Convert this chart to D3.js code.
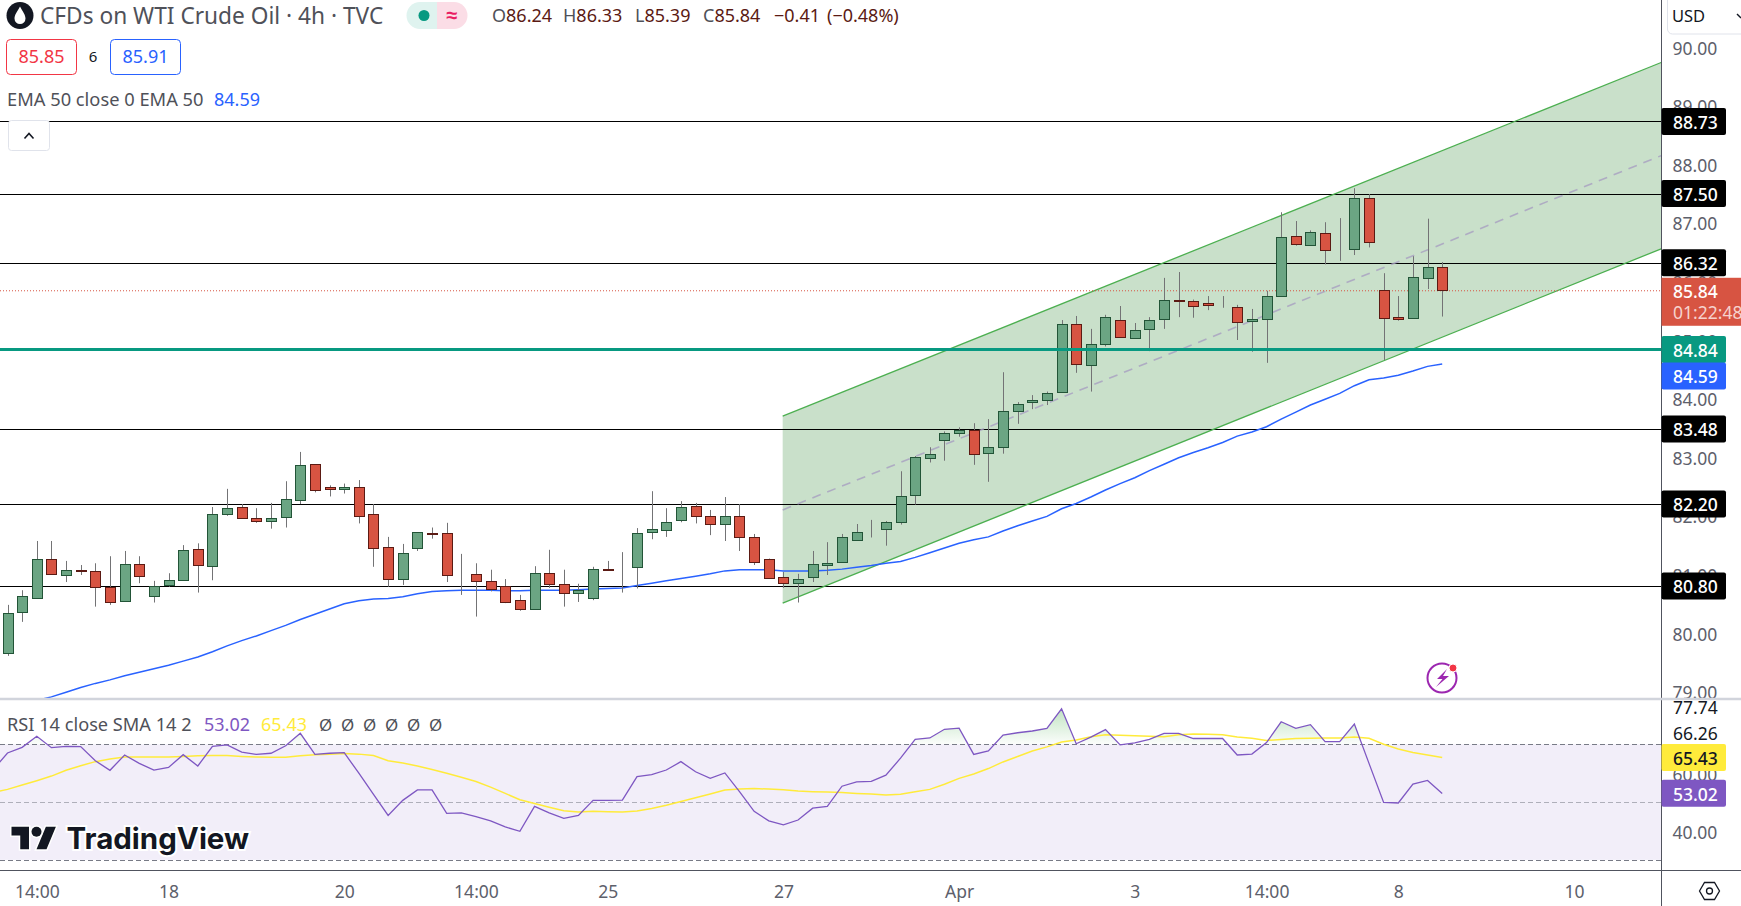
<!DOCTYPE html>
<html>
<head>
<meta charset="utf-8">
<script src="https://cdn.jsdelivr.net/npm/d3@7"></script>
<style>
	html, body { margin: 0; padding: 0; background: #fff; overflow: hidden; }
	svg { display: block; }
	text { font-family: "Noto Sans", sans-serif; }
</style>
</head>
<body>
<div id="chart"></div>
<script>
// one entry per 4h bar
var opens = [79.65,80.35,80.61,81.26,80.98,81.07,81.05,80.78,80.54,81.17,80.64,80.81,80.90,81.43,81.14,82.03,82.15,81.97,81.92,81.97,
	82.26,82.88,82.50,82.47,82.50,82.03,81.46,80.92,81.45,81.70,81.70,81.02,81.00,80.88,80.81,80.56,80.40,81.02,80.83,80.68,
	80.61,81.10,81.10,81.12,81.72,81.77,81.92,82.16,81.99,81.85,81.99,81.63,81.27,80.95,80.87,80.95,81.17,81.20,81.60,81.77,
	81.77,81.89,82.35,82.98,83.29,83.41,83.46,83.07,83.17,83.78,83.94,83.97,84.11,85.27,84.59,84.93,85.34,85.03,85.18,85.35,
	85.68,85.66,85.63,85.57,85.57,85.32,85.35,85.75,86.77,86.62,86.82,86.53,86.55,87.42,85.86,85.40,85.37,86.05,86.24];
var highs = [80.48,80.73,81.57,81.57,81.23,81.16,81.19,81.31,81.40,81.31,80.89,81.02,81.50,81.53,82.15,82.46,82.20,82.13,82.22,82.59,
	83.09,82.88,82.52,82.55,82.61,82.20,81.64,81.52,81.72,81.80,81.88,81.35,81.19,81.08,80.92,80.65,81.14,81.42,81.08,80.84,
	81.13,81.23,81.38,81.79,82.42,82.13,82.25,82.22,82.10,82.32,82.20,81.69,81.27,81.04,81.01,81.40,81.55,81.69,81.86,81.93,
	81.91,82.76,83.02,83.17,83.44,83.51,83.58,83.65,84.45,83.94,84.06,84.12,85.34,85.41,85.19,85.43,85.58,85.29,85.39,86.06,
	86.16,85.69,85.75,85.75,85.60,85.53,85.84,87.18,87.03,86.87,87.01,87.08,87.59,87.49,86.14,85.75,86.43,87.07,86.33];
var lows = [79.61,80.19,80.61,81.00,80.87,80.99,80.45,80.48,80.54,80.85,80.52,80.79,80.90,80.69,80.90,82.00,81.97,81.88,81.78,81.80,
	82.20,82.40,82.33,82.38,81.87,81.13,80.79,80.82,81.40,81.61,80.87,80.65,80.28,80.71,80.51,80.38,80.40,80.77,80.45,80.53,
	80.56,81.08,80.69,80.76,81.60,81.64,81.89,81.87,81.67,81.57,81.40,81.16,80.95,80.77,80.52,80.87,80.99,81.20,81.58,81.63,
	81.49,81.85,82.19,82.91,82.94,83.35,82.87,82.58,83.06,83.57,83.82,83.89,84.11,84.44,84.12,84.89,85.05,85.03,84.81,85.19,
	85.39,85.38,85.51,85.55,85.00,84.80,84.61,85.75,86.61,86.62,86.29,86.35,86.45,86.58,84.66,85.33,85.37,85.87,85.40];
var closes = [80.34,80.63,81.27,81.00,81.07,81.06,80.78,80.52,81.17,80.97,80.81,80.90,81.41,81.16,82.03,82.13,81.97,81.92,81.97,82.28,
	82.86,82.43,82.47,82.50,82.01,81.45,80.92,81.36,81.72,81.69,80.98,81.02,80.88,80.75,80.54,80.40,81.02,80.83,80.68,80.73,
	81.10,81.09,81.10,81.70,81.77,81.90,82.15,81.99,81.85,81.99,81.63,81.20,80.95,80.85,80.93,81.17,81.20,81.63,81.73,81.77,
	81.89,82.33,83.00,83.05,83.41,83.46,83.05,83.17,83.78,83.90,83.97,84.09,85.27,84.59,84.94,85.39,85.05,85.17,85.34,85.68,
	85.67,85.57,85.59,85.57,85.32,85.35,85.75,86.75,86.63,86.84,86.53,86.53,87.42,86.67,85.39,85.37,86.07,86.24,85.84];

// EMA 50, first three bars are below the pane
var emaValues = [78.72,78.78,78.85,78.91,78.99,79.07,79.14,79.20,79.27,79.33,79.39,79.45,79.52,79.59,79.68,79.78,79.87,79.95,80.04,80.13,
	80.23,80.32,80.41,80.50,80.55,80.58,80.59,80.62,80.67,80.71,80.72,80.73,80.73,80.73,80.72,80.72,80.73,80.73,80.73,80.74,
	80.75,80.76,80.77,80.81,80.85,80.89,80.93,80.97,81.01,81.06,81.08,81.08,81.08,81.06,81.06,81.06,81.07,81.09,81.12,81.15,
	81.19,81.22,81.29,81.37,81.45,81.53,81.59,81.64,81.74,81.83,81.91,81.99,82.12,82.21,82.32,82.44,82.55,82.65,82.77,82.88,
	82.99,83.08,83.16,83.25,83.36,83.43,83.52,83.65,83.77,83.89,83.99,84.09,84.22,84.32,84.35,84.40,84.47,84.55,84.59];

// both rsi lists start one bar earlier, that bar is cut off by the left edge
var rsiValues = [61.0,67.0,68.95,72.76,68.84,69.3,69.2,64.3,61.0,66.3,63.4,61.1,62.0,66.4,62.5,69.3,69.8,67.3,66.5,66.9,69.5,
	73.8,66.5,66.9,67.1,60.0,52.7,45.4,50.6,54.2,54.2,46.1,46.3,45.0,43.5,41.4,39.9,48.5,46.3,44.4,45.4,
	50.6,50.6,50.7,58.8,59.5,61.1,64.0,60.5,58.2,60.1,53.6,46.8,43.5,42.1,43.8,47.9,48.5,55.5,57.0,57.2,
	59.3,65.2,71.7,72.2,75.2,75.6,66.5,67.7,73.2,74.0,74.6,75.5,82.3,70.2,72.5,75.1,69.8,70.5,71.7,73.8,
	73.8,72.0,72.0,72.0,66.3,66.6,70.6,77.8,75.5,76.8,70.9,70.9,77.0,63.4,49.9,49.7,56.2,57.5,53.0];
var rsiSmaValues = [53.3,54.4,55.9,57.4,59.0,61.0,62.6,64.0,64.9,65.6,65.6,65.6,65.6,65.8,66.0,66.1,66.1,65.8,65.6,65.5,65.5,
	66.0,66.4,66.6,66.8,66.6,66.1,64.3,63.5,62.5,61.3,60.0,58.6,57.1,55.2,53.0,50.8,49.5,48.2,47.0,46.6,
	46.8,46.7,46.6,46.9,47.8,48.9,50.2,51.5,52.8,54.2,54.5,54.7,54.5,54.3,53.8,53.6,53.5,53.3,53.0,52.8,
	52.5,52.7,53.6,54.4,56.2,58.2,59.7,61.6,63.9,65.8,67.7,69.1,70.8,71.5,72.6,73.3,73.1,73.0,72.8,72.6,
	73.3,73.6,73.5,73.3,72.5,72.1,71.3,71.7,72.0,72.1,72.2,72.2,72.5,72.1,70.0,68.4,67.2,66.3,65.43];

var priceTicks = [90,89,88,87,86,85,84,83,82,81,80,79];
var rsiTicks = [60,40];
var rsiBandLevels = [70,50,30];
var timeIndexes = [2,11,23,32,41,53,65,77,86,95,107];
var timeLabels = ["14:00","18","20","14:00","25","27","Apr","3","14:00","8","10"];

var levelValues = [88.73,87.50,86.32,83.48,82.20,80.80];
var supportValue = 84.84;
var lastPrice = 85.84;
var countdown = "01:22:48";
var emaLast = 84.59;
var rsiLast = 53.02;
var rsiSmaLast = 65.43;
var rsiExtraLabels = ["77.74","66.26"];

// regression channel, first bar and right edge of the pane
var channelIndexes = [52.95,113];
var channelUpper = [83.70,89.74];
var channelMiddle = [82.10,88.15];
var channelLower = [80.51,86.56];

var legendKeys = ["O","H","L","C"];
var legendValues = ["86.24","86.33","85.39","85.84"];
var legendChange = ["\u22120.41","(\u22120.48%)"];
var sellPrice = "85.85";
var spreadText = "6";
var buyPrice = "85.91";


var W = 1741, H = 906;
var plotRight = 1661.5;
var mainBottom = 698;
var rsiTop = 700;
var rsiBottom = 870;

var COLORS = {
	up: "#6ba583", upBorder: "#225437",
	down: "#d75442", downBorder: "#5b1a13",
	wick: "#737375",
	axisLine: "#50535e", axisText: "#5d606b", sep: "#d1d4dc",
	teal: "#089981", blue: "#2962ff", purple: "#7e57c2", yellow: "#ffeb3b",
	channel: "#4caf50", channelFill: "#388e3c", text: "#4f5159"
};

var svg = d3.select("#chart").append("svg").attr("width", W).attr("height", H);
var defs = svg.append("defs");

defs.append("clipPath").attr("id", "clipMain")
	.append("rect").attr("x", 0).attr("y", 0).attr("width", plotRight).attr("height", mainBottom);
defs.append("clipPath").attr("id", "clipAxis")
	.append("rect").attr("x", plotRight).attr("y", 0).attr("width", W - plotRight).attr("height", mainBottom);

/***************************************************************************
 *
 * SCALES
 *
 **************************************************************************/
var x = d3.scaleLinear().domain([0, 98]).range([7.5, 1442.2]);
var y = d3.scaleLinear().domain([90, 79]).range([47, 691.6]);
var rsiY = d3.scaleLinear().domain([70, 30]).range([744.3, 859.9]);

/***************************************************************************
 *
 * MAIN PANE
 *
 **************************************************************************/
var main = svg.append("g").attr("clip-path", "url(#clipMain)");

var channelPoints = function(values)
{
	return values.map(function(v, i) { return [x(channelIndexes[i]), y(v)]; });
};

main.append("path")
	.attr("d", "M" + channelPoints(channelUpper).join("L") + "L" + channelPoints(channelLower).reverse().join("L") + "Z")
	.attr("fill", COLORS.channelFill)
	.attr("fill-opacity", 0.27);

main.selectAll(".level")
	.data(levelValues)
	.enter()
	.append("line")
		.attr("class", "level")
		.attr("x1", 0)
		.attr("x2", plotRight)
		.attr("y1", function(d) { return Math.round(y(d)) + 0.5; })
		.attr("y2", function(d) { return Math.round(y(d)) + 0.5; })
		.attr("stroke", "#000")
		.attr("stroke-width", 1.2);

[channelUpper, channelLower].forEach(function(values)
{
	main.append("path")
		.attr("d", "M" + channelPoints(values).join("L"))
		.attr("stroke", COLORS.channel)
		.attr("stroke-width", 1.3)
		.attr("fill", "none");
});

main.append("path")
	.attr("d", "M" + channelPoints(channelMiddle).join("L"))
	.attr("stroke", "#a79fc0")
	.attr("stroke-opacity", 0.8)
	.attr("stroke-width", 1.6)
	.attr("stroke-dasharray", "9,7")
	.attr("fill", "none");

main.append("line")
	.attr("x1", 0)
	.attr("x2", plotRight)
	.attr("y1", y(lastPrice))
	.attr("y2", y(lastPrice))
	.attr("stroke", COLORS.down)
	.attr("stroke-width", 1)
	.attr("stroke-dasharray", "1,2");

var emaLine = d3.line()
	.x(function(d, i) { return x(i); })
	.y(function(d) { return y(d); });

main.append("path")
	.datum(emaValues)
	.attr("d", emaLine)
	.attr("stroke", COLORS.blue)
	.attr("stroke-width", 1.5)
	.attr("fill", "none");

var barIsUp = function(i) { return closes[i] >= opens[i]; };

main.selectAll(".wick")
	.data(d3.range(opens.length))
	.enter()
	.append("line")
		.attr("class", "wick")
		.attr("x1", function(i) { return Math.round(x(i)) + 0.5; })
		.attr("x2", function(i) { return Math.round(x(i)) + 0.5; })
		.attr("y1", function(i) { return y(highs[i]); })
		.attr("y2", function(i) { return y(lows[i]); })
		.attr("stroke", COLORS.wick)
		.attr("stroke-width", 1);

main.selectAll(".body")
	.data(d3.range(opens.length))
	.enter()
	.append("rect")
		.attr("class", "body")
		.attr("x", function(i) { return Math.round(x(i)) - 4.5; })
		.attr("width", 10)
		.attr("y", function(i) { return Math.round(y(Math.max(opens[i], closes[i]))) + 0.5; })
		.attr("height", function(i) { return Math.max(0, Math.round(Math.abs(y(opens[i]) - y(closes[i])))); })
		.attr("fill", function(i) { return barIsUp(i) ? COLORS.up : COLORS.down; })
		.attr("stroke", function(i) { return barIsUp(i) ? COLORS.upBorder : COLORS.downBorder; })
		.attr("stroke-width", 1);

// support line is the only drawing above the candles
main.append("line")
	.attr("x1", 0)
	.attr("x2", plotRight)
	.attr("y1", y(supportValue))
	.attr("y2", y(supportValue))
	.attr("stroke", COLORS.teal)
	.attr("stroke-width", 3);

/***************************************************************************
 *
 * RSI PANE
 *
 **************************************************************************/
var rsi = svg.append("g");

rsi.append("rect")
	.attr("x", 0)
	.attr("width", plotRight)
	.attr("y", rsiY(70))
	.attr("height", rsiY(30) - rsiY(70))
	.attr("fill", COLORS.purple)
	.attr("fill-opacity", 0.1);

var grad = defs.append("linearGradient").attr("id", "rsiOver")
	.attr("gradientUnits", "userSpaceOnUse")
	.attr("x1", 0).attr("x2", 0)
	.attr("y1", rsiY(d3.max(rsiValues))).attr("y2", rsiY(70));
grad.append("stop").attr("offset", 0).attr("stop-color", COLORS.channel).attr("stop-opacity", 0.35);
grad.append("stop").attr("offset", 1).attr("stop-color", COLORS.channel).attr("stop-opacity", 0.02);

defs.append("clipPath").attr("id", "clipOver")
	.append("rect").attr("x", 0).attr("y", rsiTop).attr("width", plotRight).attr("height", rsiY(70) - rsiTop);

rsi.append("path")
	.datum(rsiValues)
	.attr("clip-path", "url(#clipOver)")
	.attr("fill", "url(#rsiOver)")
	.attr("d", d3.area()
		.x(function(d, i) { return x(i - 1); })
		.y0(rsiY(70))
		.y1(function(d) { return rsiY(d); }));

rsi.selectAll(".band")
	.data(rsiBandLevels)
	.enter()
	.append("line")
		.attr("class", "band")
		.attr("x1", 0)
		.attr("x2", plotRight)
		.attr("y1", function(d) { return Math.round(rsiY(d)) + 0.5; })
		.attr("y2", function(d) { return Math.round(rsiY(d)) + 0.5; })
		.attr("stroke", "#787b86")
		.attr("stroke-opacity", function(d) { return d === 50 ? 0.55 : 1; })
		.attr("stroke-dasharray", "5,3");

var rsiLine = d3.line()
	.x(function(d, i) { return x(i - 1); })
	.y(function(d) { return rsiY(d); });

rsi.append("path")
	.datum(rsiSmaValues)
	.attr("d", rsiLine)
	.attr("stroke", COLORS.yellow)
	.attr("stroke-width", 1.5)
	.attr("fill", "none");

rsi.append("path")
	.datum(rsiValues)
	.attr("d", rsiLine)
	.attr("stroke", COLORS.purple)
	.attr("stroke-width", 1.3)
	.attr("fill", "none");

/***************************************************************************
 *
 * AXES
 *
 **************************************************************************/
var styleAxis = function(g, color, dy)
{
	g.select(".domain").remove();
	g.selectAll("text")
		.attr("fill", color)
		.attr("dy", dy)
		.style("font-size", "17.5px")
		.style("font-family", "\"Noto Sans\", sans-serif");
};

svg.append("g")
	.attr("clip-path", "url(#clipAxis)")
	.append("g")
	.attr("transform", "translate(" + plotRight + ",0)")
	.call(d3.axisRight(y).tickValues(priceTicks).tickSize(0).tickPadding(11).tickFormat(d3.format(".2f")))
	.call(styleAxis, COLORS.axisText, "0.4em");

svg.append("g")
	.attr("transform", "translate(" + plotRight + ",0)")
	.call(d3.axisRight(rsiY).tickValues(rsiTicks).tickSize(0).tickPadding(11).tickFormat(d3.format(".2f")))
	.call(styleAxis, COLORS.axisText, "0.4em");

svg.append("g")
	.attr("transform", "translate(0," + rsiBottom + ")")
	.call(d3.axisBottom(x)
		.tickValues(timeIndexes)
		.tickSize(0)
		.tickPadding(16)
		.tickFormat(function(d) { return timeLabels[timeIndexes.indexOf(d)]; }))
	.call(styleAxis, COLORS.axisText, "0.71em");

svg.append("line").attr("x1", plotRight).attr("x2", plotRight).attr("y1", 0).attr("y2", H)
	.attr("stroke", COLORS.axisLine).attr("stroke-width", 1);
svg.append("line").attr("x1", 0).attr("x2", W).attr("y1", rsiBottom + 0.5).attr("y2", rsiBottom + 0.5)
	.attr("stroke", COLORS.axisLine).attr("stroke-width", 1);
svg.append("line").attr("x1", 0).attr("x2", W).attr("y1", 699).attr("y2", 699)
	.attr("stroke", COLORS.sep).attr("stroke-width", 2.5);

/**
 * draws a coloured value tag on the right axis.
 */
var drawTag = function(cy, label, fill, color)
{
	svg.append("rect")
		.attr("x", plotRight)
		.attr("y", cy - 13.5)
		.attr("width", 64.5)
		.attr("height", 27)
		.attr("rx", 2)
		.attr("fill", fill);
	svg.append("text")
		.attr("x", plotRight + 11.5)
		.attr("y", cy)
		.attr("dy", "0.42em")
		.attr("fill", color)
		.style("font-size", "17.5px")
		.style("font-weight", 500)
		.text(label);
};

levelValues.forEach(function(v)
{
	drawTag(y(v), d3.format(".2f")(v), "#000", "#fff");
});

// last price tag is taller, it holds the countdown too
svg.append("rect")
	.attr("x", plotRight)
	.attr("y", y(lastPrice) - 13)
	.attr("width", W - plotRight)
	.attr("height", 48)
	.attr("fill", COLORS.down);
svg.append("text")
	.attr("x", plotRight + 11.5)
	.attr("y", y(lastPrice))
	.attr("dy", "0.42em")
	.attr("fill", "#fff")
	.style("font-size", "17.5px")
	.style("font-weight", 500)
	.text(d3.format(".2f")(lastPrice));
svg.append("text")
	.attr("x", plotRight + 11.5)
	.attr("y", y(lastPrice) + 21)
	.attr("dy", "0.42em")
	.attr("fill", "#f6d2cd")
	.style("font-size", "17.5px")
	.text(countdown);

// the ema tag sits just under the support tag, pushed down so both can be read
var emaTagOffset = 12;
drawTag(y(supportValue), d3.format(".2f")(supportValue), COLORS.teal, "#fff");
drawTag(y(emaLast) + emaTagOffset, d3.format(".2f")(emaLast), COLORS.blue, "#fff");
drawTag(rsiY(rsiSmaLast), d3.format(".2f")(rsiSmaLast), COLORS.yellow, "#131722");
drawTag(rsiY(rsiLast), d3.format(".2f")(rsiLast), COLORS.purple, "#fff");

svg.selectAll(".rsiExtra")
	.data(rsiExtraLabels)
	.enter()
	.append("text")
		.attr("class", "rsiExtra")
		.attr("x", plotRight + 11.5)
		.attr("y", function(d, i) { return 707 + i * 26; })
		.attr("dy", "0.4em")
		.attr("fill", "#131722")
		.style("font-size", "17.5px")
		.text(function(d) { return d; });

/***************************************************************************
 *
 * HEADER AND LEGENDS
 *
 **************************************************************************/
var addText = function(px, py, label, color, size)
{
	return svg.append("text")
		.attr("x", px)
		.attr("y", py)
		.attr("dy", "0.36em")
		.attr("fill", color)
		.style("font-size", (size || 18) + "px")
		.text(label);
};

// symbol icon
svg.append("circle").attr("cx", 20).attr("cy", 15.5).attr("r", 13.5).attr("fill", "#131722");
svg.append("path")
	.attr("d", "M20 6.5C23 12 25.5 15 25.5 18.5A5.5 5.5 0 0 1 14.5 18.5C14.5 15 17 12 20 6.5Z")
	.attr("fill", "#fff");

addText(40, 16, "CFDs on WTI Crude Oil \u00b7 4h \u00b7 TVC", COLORS.text, 22.7);

// market status pill
svg.append("path").attr("d", "M437 2H420A13.5 13.5 0 0 0 420 29H437Z").attr("fill", "#dff3ef");
svg.append("path").attr("d", "M437 2H454A13.5 13.5 0 0 1 454 29H437Z").attr("fill", "#fbdde6");
svg.append("ellipse").attr("cx", 424).attr("cy", 15.5).attr("rx", 5.5).attr("ry", 5.5).attr("fill", COLORS.teal);
addText(452, 15, "\u2248", "#e91e63", 20).attr("text-anchor", "middle").style("font-weight", 700);

var legendKeyX = [492, 563, 635, 703];
legendKeys.forEach(function(k, i)
{
	var t = addText(legendKeyX[i], 16, k, COLORS.text, 18);
	t.append("tspan").attr("fill", COLORS.downBorder).text(legendValues[i]);
});
addText(774, 16, legendChange[0], COLORS.downBorder, 18);
addText(827, 16, legendChange[1], COLORS.downBorder, 18);

// sell / buy boxes
svg.append("rect").attr("x", 6.5).attr("y", 39.5).attr("width", 70).attr("height", 35).attr("rx", 4)
	.attr("fill", "#fff").attr("stroke", "#f23645");
addText(41.5, 57, sellPrice, "#f23645", 18).attr("text-anchor", "middle");
addText(93, 57, spreadText, "#131722", 15).attr("text-anchor", "middle");
svg.append("rect").attr("x", 110.5).attr("y", 39.5).attr("width", 70).attr("height", 35).attr("rx", 4)
	.attr("fill", "#fff").attr("stroke", COLORS.blue);
addText(145.5, 57, buyPrice, COLORS.blue, 18).attr("text-anchor", "middle");

addText(7, 99.5, "EMA 50 close 0 EMA 50", COLORS.text, 18.3);
addText(214, 99.5, d3.format(".2f")(emaLast), COLORS.blue, 18);

// collapse button
svg.append("rect").attr("x", 8.5).attr("y", 120.5).attr("width", 41).attr("height", 30).attr("rx", 3)
	.attr("fill", "#fff").attr("stroke", "#e0e3eb");
svg.append("path").attr("d", "M24.5 138.5L29 133.5L33.5 138.5").attr("fill", "none").attr("stroke", "#131722").attr("stroke-width", 1.6);

// currency box
svg.append("rect").attr("x", 1667.5).attr("y", -6).attr("width", 90).attr("height", 40).attr("rx", 5)
	.attr("fill", "#fff").attr("stroke", "#e0e3eb");
addText(1672, 16, "USD", "#131722", 16.5);
svg.append("path").attr("d", "M1737 14L1741 18").attr("fill", "none").attr("stroke", "#131722").attr("stroke-width", 1.4);

// rsi legend
addText(7, 724.5, "RSI 14 close SMA 14 2", COLORS.text, 18.2);
addText(204, 724.5, d3.format(".2f")(rsiLast), COLORS.purple, 18);
addText(261, 724.5, d3.format(".2f")(rsiSmaLast), COLORS.yellow, 18);
d3.range(6).forEach(function(i)
{
	addText(319 + i * 22, 724.5, "\u00d8", COLORS.text, 17);
});

// TradingView watermark
var logo = svg.append("g").attr("transform", "translate(11.5,821.7) scale(1.25)");
logo.append("path")
	.attr("d", "M14 22H7V11H0V4h14v18zM28 22h-8l7.5-18h8L28 22z")
	.attr("fill", "#131722").attr("stroke", "#fff").attr("stroke-width", 2.4).attr("paint-order", "stroke");
logo.append("circle").attr("cx", 20).attr("cy", 8).attr("r", 4)
	.attr("fill", "#131722").attr("stroke", "#fff").attr("stroke-width", 2.4).attr("paint-order", "stroke");
svg.append("text")
	.attr("x", 66.5)
	.attr("y", 849)
	.attr("fill", "#131722")
	.attr("stroke", "#fff")
	.attr("stroke-width", 4)
	.attr("paint-order", "stroke")
	.style("font-family", "Inter, sans-serif")
	.style("font-size", "29.5px")
	.style("font-weight", 700)
	.text("TradingView");

// lightning badge
svg.append("circle").attr("cx", 1442).attr("cy", 678).attr("r", 14.5)
	.attr("fill", "#fff").attr("stroke", "#9c27b0").attr("stroke-width", 2);
svg.append("path").attr("d", "M1447 669L1437 679H1442.5L1436 687L1449 676H1443Z").attr("fill", "#9c27b0");
svg.append("circle").attr("cx", 1453).attr("cy", 668).attr("r", 4).attr("fill", "#f23645").attr("stroke", "#fff").attr("stroke-width", 1);

// settings hexagon
svg.append("path").attr("d", "M1699.5 891L1704.5 882.5H1714.5L1719.5 891L1714.5 899.5H1704.5Z")
	.attr("fill", "none").attr("stroke", "#131722").attr("stroke-width", 1.3);
svg.append("circle").attr("cx", 1709.5).attr("cy", 891).attr("r", 3).attr("fill", "none").attr("stroke", "#131722").attr("stroke-width", 1.3);
</script>
</body>
</html>
